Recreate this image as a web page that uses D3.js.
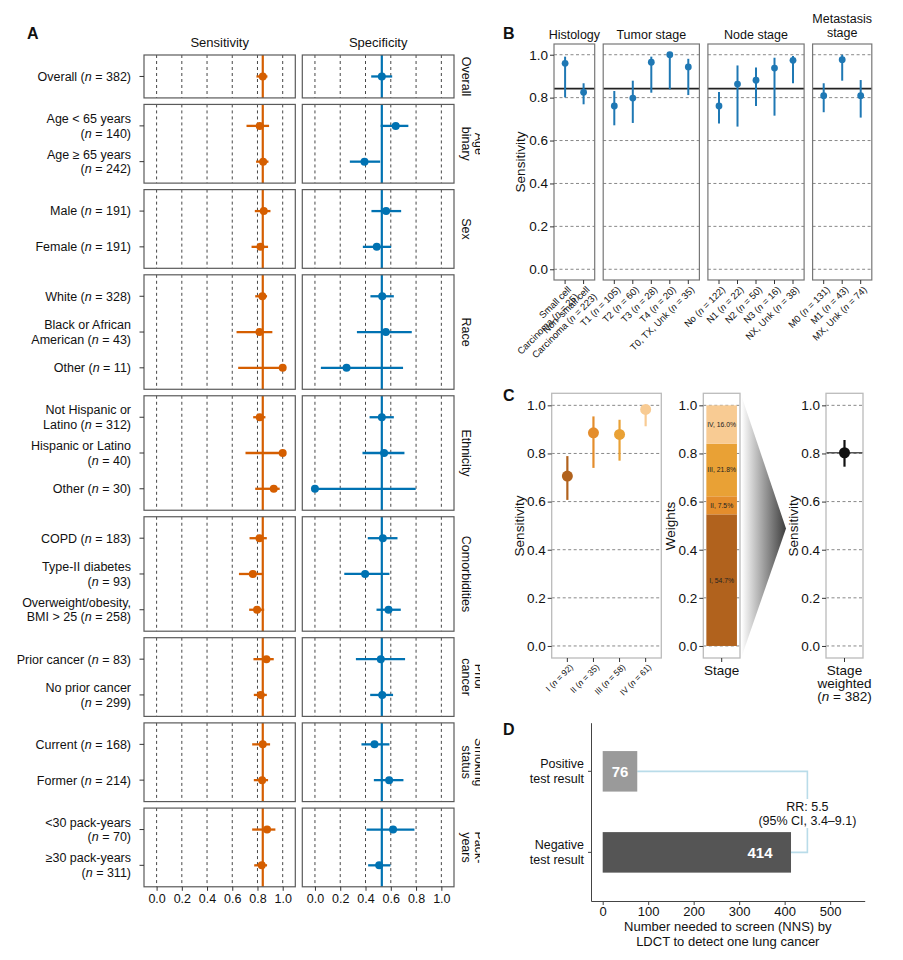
<!DOCTYPE html>
<html><head><meta charset="utf-8">
<script src="https://cdn.jsdelivr.net/npm/d3@7"></script>
<style>
body{margin:0;background:#fff}
svg{font-family:"Liberation Sans",Arial,Helvetica,sans-serif}
</style>
</head><body>
<svg id="c" width="903" height="960"></svg>
<script>
// ---------------- DATA ----------------
// Panel A
const groupsA = ["Overall","Age\nbinary","Sex","Race","Ethnicity","Comorbidities","Prior\ncancer","Smoking\nstatus","Pack-\nyears"];
const subgroupLabels = ["Overall (n = 382)","Age < 65 years\n(n = 140)","Age ≥ 65 years\n(n = 242)","Male (n = 191)","Female (n = 191)",
 "White (n = 328)","Black or African\nAmerican (n = 43)","Other (n = 11)","Not Hispanic or\nLatino (n = 312)","Hispanic or Latino\n(n = 40)","Other (n = 30)",
 "COPD (n = 183)","Type-II diabetes\n(n = 93)","Overweight/obesity,\nBMI > 25 (n = 258)","Prior cancer (n = 83)","No prior cancer\n(n = 299)",
 "Current (n = 168)","Former (n = 214)","<30 pack-years\n(n = 70)","≥30 pack-years\n(n = 311)"];
const subgroupGroup = [0,1,1,2,2,3,3,3,4,4,4,5,5,5,6,6,7,7,8,8];
const sensEst = [0.842,0.818,0.845,0.850,0.824,0.839,0.816,1.000,0.818,1.000,0.929,0.816,0.763,0.797,0.871,0.826,0.842,0.837,0.876,0.834];
const sensLo  = [0.792,0.713,0.789,0.779,0.753,0.782,0.634,0.647,0.766,0.705,0.782,0.737,0.653,0.734,0.768,0.771,0.758,0.771,0.758,0.774];
const sensHi  = [0.879,0.892,0.887,0.903,0.884,0.876,0.918,1.000,0.863,1.000,0.976,0.874,0.845,0.853,0.929,0.874,0.900,0.884,0.942,0.876];
const specEst = [0.529,0.639,0.392,0.563,0.489,0.532,0.561,0.250,0.529,0.547,0.000,0.537,0.397,0.582,0.521,0.532,0.471,0.587,0.618,0.508];
const specLo  = [0.445,0.520,0.276,0.447,0.379,0.439,0.332,0.047,0.432,0.376,0.000,0.418,0.232,0.487,0.324,0.437,0.368,0.466,0.408,0.421];
const specHi  = [0.611,0.739,0.516,0.682,0.603,0.624,0.766,0.697,0.624,0.708,0.797,0.653,0.589,0.679,0.713,0.618,0.589,0.700,0.787,0.597];
const ticksA = [0,0.2,0.4,0.6,0.8,1.0];

// Panel B
const facetsB = ["Histology","Tumor stage","Node stage","Metastasis\nstage"];
const catsB = ["Small cell\nCarcinoma (n = 25)","Non–small cell\nCarcinoma (n = 223)","T1 (n = 105)","T2 (n = 60)","T3 (n = 28)","T4 (n = 20)","T0, TX, Unk (n = 35)",
 "No (n = 122)","N1 (n = 22)","N2 (n = 50)","N3 (n = 16)","NX, Unk (n = 38)","M0 (n = 131)","M1 (n = 43)","MX, Unk (n = 74)"];
const catsBFacet = [0,0,1,1,1,1,1,2,2,2,2,2,3,3,3];
const estB = [0.960,0.825,0.761,0.798,0.965,1.000,0.943,0.761,0.863,0.881,0.938,0.974,0.809,0.977,0.809];
const loB  = [0.801,0.769,0.671,0.682,0.823,0.839,0.812,0.679,0.665,0.761,0.716,0.867,0.732,0.879,0.707];
const hiB  = [0.991,0.867,0.831,0.879,0.991,1.000,0.981,0.826,0.950,0.941,0.986,0.994,0.867,1.000,0.882];
const ticksBC = [0,0.2,0.4,0.6,0.8,1.0];

// Panel C
const stagesC = ["I (n = 92)","II (n = 35)","III (n = 58)","IV (n = 61)"];
const stageNames = ["I","II","III","IV"];
const estC = [0.706,0.886,0.879,0.983];
const loC  = [0.607,0.740,0.770,0.913];
const hiC  = [0.789,0.954,0.940,1.000];
const weightsC = [0.547,0.075,0.218,0.160];
const stageColors = ["#B1621D","#E48D2C","#E9A135","#F8CB93"];
const weightedEst = 0.803, weightedLo = 0.745, weightedHi = 0.856;

// Panel D
const catsD = ["Positive\ntest result","Negative\ntest result"];
const nnsD = [76,414];
const barColorsD = ["#9a9a9a","#555555"];
const rrLines = ["RR: 5.5","(95% CI, 3.4–9.1)"];
const ticksD = [0,100,200,300,400,500];

// ---------------- HELPERS ----------------
const svg = d3.select("#c");
const colSens = "#D55E00", colSpec = "#0072B2", colB = "#1F78B4";

function richText(parent, str, o) {
  const size = o.size || 12.5, lh = o.lh || size*1.16, anchor = o.anchor || "start";
  const lines = str.split("\n"), n = lines.length;
  const t = parent.append("text").attr("text-anchor", anchor).attr("font-size", size)
    .attr("fill", o.fill || "#111").attr("font-weight", o.weight || "normal");
  if (o.transform) t.attr("transform", o.transform);
  const x = o.x || 0, y = o.y || 0;
  let start;
  const va = o.valign || "middle";
  if (va === "middle") start = y - (n-1)*lh/2 + 0.35*size;
  else if (va === "top") start = y + 0.78*size;
  else if (va === "lastline") start = y - (n-1)*lh + 0.35*size;
  else start = y;
  lines.forEach((ln, i) => {
    const parts = ln.split(/\b(n)(?= = )/);
    let first = true;
    parts.forEach((p, j) => {
      if (!p) return;
      const ts = t.append("tspan").text(p);
      if (first) { ts.attr("x", x).attr("y", start + i*lh); first = false; }
      if (j % 2 === 1) ts.attr("font-style", "italic");
    });
  });
  return t;
}
function styleAxis(g, size) {
  g.select(".domain").remove();
  g.selectAll(".tick line").attr("stroke", "#333");
  g.selectAll(".tick text").attr("font-size", size).attr("fill", "#111").attr("font-family", null);
  g.attr("font-family", null);
}
function panelLetter(txt, x, y) {
  svg.append("text").attr("x", x).attr("y", y).attr("font-size", 16).attr("font-weight", "bold").attr("fill", "#111").text(txt);
}

// ---------------- PANEL A ----------------
panelLetter("A", 27, 39);
const xSens = d3.scaleLinear().domain([-0.1, 1.1]).range([144, 295.3]);
const xSpec = d3.scaleLinear().domain([-0.1, 1.1]).range([302.3, 454]);
const unitA = 35.77, gapA = 6.5;
let yCur = 55;
const panelsA = groupsA.map((g, gi) => {
  const idx = subgroupGroup.map((v, i) => v === gi ? i : -1).filter(i => i >= 0);
  const h = (idx.length + 0.2) * unitA;
  const p = {gi, idx, top: yCur, bottom: yCur + h,
    scale: d3.scalePoint().domain(idx).range([yCur, yCur + h]).padding(0.6)};
  yCur += h + gapA;
  return p;
});
const gA = svg.append("g");
svg.append("text").attr("x", (144+295.3)/2).attr("y", 47).attr("text-anchor","middle").attr("font-size",13).attr("fill","#111").text("Sensitivity");
svg.append("text").attr("x", (302.3+454)/2).attr("y", 47).attr("text-anchor","middle").attr("font-size",13).attr("fill","#111").text("Specificity");

const defs = svg.append("defs");
defs.append("clipPath").attr("id","stripclip").append("rect").attr("x",455).attr("y",0).attr("width",25).attr("height",960);
const stripG = svg.append("g").attr("clip-path","url(#stripclip)");

panelsA.forEach(p => {
  [[xSens, sensEst, sensLo, sensHi, colSens], [xSpec, specEst, specLo, specHi, colSpec]].forEach(([x, est, lo, hi, col]) => {
    const [x0, x1] = x.range();
    gA.append("rect").attr("x", x0).attr("y", p.top).attr("width", x1-x0).attr("height", p.bottom-p.top).attr("fill","#fff");
    gA.selectAll(null).data(ticksA).join("line")
      .attr("x1", d => x(d)).attr("x2", d => x(d)).attr("y1", p.top).attr("y2", p.bottom)
      .attr("stroke", "#333").attr("stroke-dasharray", "3,3").attr("stroke-width", 0.9);
    gA.append("line").attr("x1", x(est[0])).attr("x2", x(est[0])).attr("y1", p.top).attr("y2", p.bottom)
      .attr("stroke", col).attr("stroke-width", 2.2);
    gA.selectAll(null).data(p.idx).join("line")
      .attr("x1", i => x(lo[i])).attr("x2", i => x(hi[i])).attr("y1", i => p.scale(i)).attr("y2", i => p.scale(i))
      .attr("stroke", col).attr("stroke-width", 2.3);
    gA.selectAll(null).data(p.idx).join("circle")
      .attr("cx", i => x(est[i])).attr("cy", i => p.scale(i)).attr("r", 4).attr("fill", col);
    gA.append("rect").attr("x", x0).attr("y", p.top).attr("width", x1-x0).attr("height", p.bottom-p.top)
      .attr("fill", "none").attr("stroke", "#5a5a5a").attr("stroke-width", 1.2);
  });
  p.idx.forEach(i => {
    const y = p.scale(i);
    gA.append("line").attr("x1", 139.5).attr("x2", 144).attr("y1", y).attr("y2", y).attr("stroke", "#333").attr("stroke-width", 1);
    richText(gA, subgroupLabels[i], {x: 131, y: y, anchor: "end", size: 12.5, lh: 14.5});
  });
  const mid = (p.top + p.bottom) / 2;
  stripG.append("rect").attr("x",455).attr("y",p.top).attr("width",25).attr("height",p.bottom-p.top).attr("fill","#fff");
  richText(stripG, groupsA[p.gi], {x: 0, y: 0, anchor: "middle", size: 12.5, lh: 13, valign: "lastline",
    transform: `translate(466,${mid}) rotate(90)`});
});
const bottomA = panelsA[panelsA.length-1].bottom;
[xSens, xSpec].forEach(x => {
  const ax = svg.append("g").attr("transform", `translate(0,${bottomA})`)
    .call(d3.axisBottom(x).tickValues(ticksA).tickFormat(d3.format(".1f")).tickSize(4).tickPadding(3));
  styleAxis(ax, 12.5);
});

// ---------------- PANEL B ----------------
panelLetter("B", 503, 39);
const yB = d3.scaleLinear().domain([-0.05, 1.05]).range([280, 44]);
const unitB = 18.5, gapB = 8.5;
let xCur = 554;
const gB = svg.append("g");
facetsB.forEach((f, fi) => {
  const idx = catsBFacet.map((v, i) => v === fi ? i : -1).filter(i => i >= 0);
  const w = (idx.length + 0.2) * unitB;
  const x = d3.scalePoint().domain(idx).range([xCur, xCur + w]).padding(0.6);
  const x0 = xCur, x1 = xCur + w;
  gB.selectAll(null).data(ticksBC).join("line")
    .attr("x1", x0).attr("x2", x1).attr("y1", d => yB(d)).attr("y2", d => yB(d))
    .attr("stroke", "#888").attr("stroke-dasharray", "3,2.5").attr("stroke-width", 1);
  gB.append("line").attr("x1", x0).attr("x2", x1).attr("y1", yB(sensEst[0])).attr("y2", yB(sensEst[0]))
    .attr("stroke", "#222").attr("stroke-width", 1.6);
  gB.selectAll(null).data(idx).join("line")
    .attr("x1", i => x(i)).attr("x2", i => x(i)).attr("y1", i => yB(loB[i])).attr("y2", i => yB(hiB[i]))
    .attr("stroke", colB).attr("stroke-width", 2);
  gB.selectAll(null).data(idx).join("circle")
    .attr("cx", i => x(i)).attr("cy", i => yB(estB[i])).attr("r", 3.4).attr("fill", colB);
  gB.append("rect").attr("x", x0).attr("y", 44).attr("width", w).attr("height", 236)
    .attr("fill", "none").attr("stroke", "#777").attr("stroke-width", 1.2);
  const nl = f.split("\n").length;
  richText(gB, f, {x: (x0+x1)/2, y: nl > 1 ? 26 : 35, anchor: "middle", size: 12.5, lh: 14});
  idx.forEach(i => {
    gB.append("line").attr("x1", x(i)).attr("x2", x(i)).attr("y1", 280).attr("y2", 284).attr("stroke", "#333");
    richText(gB, catsB[i], {x: 0, y: 0, anchor: "end", size: 9.5, lh: 10, valign: "top",
      transform: `translate(${x(i)+1.5},${285}) rotate(-45)`});
  });
  xCur += w + gapB;
});
{
  const ax = svg.append("g").attr("transform", "translate(554,0)")
    .call(d3.axisLeft(yB).tickValues(ticksBC).tickFormat(d3.format(".1f")).tickSize(4).tickPadding(2));
  styleAxis(ax, 13.5);
  svg.append("text").attr("transform", "translate(525,162) rotate(-90)").attr("text-anchor","middle")
    .attr("font-size", 13.5).attr("fill", "#111").text("Sensitivity");
}

// ---------------- PANEL C ----------------
panelLetter("C", 503, 401);
const yC = d3.scaleLinear().domain([-0.05, 1.05]).range([658, 393.3]);
const gC = svg.append("g");
function cFrame(x0, x1) {
  gC.append("rect").attr("x", x0).attr("y", 393.3).attr("width", x1-x0).attr("height", 658-393.3).attr("fill","#fff");
  gC.selectAll(null).data(ticksBC).join("line")
    .attr("x1", x0).attr("x2", x1).attr("y1", d => yC(d)).attr("y2", d => yC(d))
    .attr("stroke", "#888").attr("stroke-dasharray", "3,2.5").attr("stroke-width", 1);
}
function cBorder(x0, x1) {
  gC.append("rect").attr("x", x0).attr("y", 393.3).attr("width", x1-x0).attr("height", 658-393.3)
    .attr("fill", "none").attr("stroke", "#bbb").attr("stroke-width", 1.3);
}
function cAxis(x0, labelX, label) {
  const ax = svg.append("g").attr("transform", `translate(${x0},0)`)
    .call(d3.axisLeft(yC).tickValues(ticksBC).tickFormat(d3.format(".1f")).tickSize(4).tickPadding(2));
  styleAxis(ax, 13.5);
  svg.append("text").attr("transform", `translate(${labelX},526) rotate(-90)`).attr("text-anchor","middle")
    .attr("font-size", 13.5).attr("fill", "#111").text(label);
}
const xC = d3.scalePoint().domain(stagesC).range([551.7, 661.3]).padding(0.6);
cFrame(551.7, 661.3);
gC.selectAll(null).data(stagesC).join("line")
  .attr("x1", d => xC(d)).attr("x2", d => xC(d)).attr("y1", (d,i) => yC(loC[i])).attr("y2", (d,i) => yC(hiC[i]))
  .attr("stroke", (d,i) => stageColors[i]).attr("stroke-width", 2.2);
gC.selectAll(null).data(stagesC).join("circle")
  .attr("cx", d => xC(d)).attr("cy", (d,i) => yC(estC[i])).attr("r", 5.5).attr("fill", (d,i) => stageColors[i]);
cBorder(551.7, 661.3);
cAxis(551.7, 524, "Sensitivity");
stagesC.forEach(s => {
  gC.append("line").attr("x1", xC(s)).attr("x2", xC(s)).attr("y1", 658).attr("y2", 662).attr("stroke", "#333");
  richText(gC, s, {x: 0, y: 0, anchor: "end", size: 8.5, valign: "top", transform: `translate(${xC(s)+1.5},663) rotate(-45)`});
});
const xW = d3.scaleBand().domain(["Stage"]).range([703.3, 740]).paddingOuter(0.1);
cFrame(703.3, 740);
const cum = d3.cumsum(weightsC);
const segs = weightsC.map((w, i) => ({w, i, y0: cum[i] - w, y1: cum[i]}));
gC.selectAll(null).data(segs).join("rect")
  .attr("x", xW("Stage")).attr("width", xW.bandwidth())
  .attr("y", d => yC(d.y1)).attr("height", d => yC(d.y0) - yC(d.y1))
  .attr("fill", d => stageColors[d.i]);
gC.selectAll(null).data(segs).join("text")
  .attr("x", xW("Stage") + xW.bandwidth()/2).attr("y", d => yC((d.y0+d.y1)/2) + 2.4)
  .attr("text-anchor", "middle").attr("font-size", 6.8).attr("fill", "#222")
  .text(d => `${stageNames[d.i]}, ${(d.w*100).toFixed(1)}%`);
cBorder(703.3, 740);
cAxis(703.3, 675, "Weights");
gC.append("line").attr("x1", 721.7).attr("x2", 721.7).attr("y1", 658).attr("y2", 662).attr("stroke", "#333");
gC.append("text").attr("x", 721.7).attr("y", 675).attr("text-anchor","middle").attr("font-size",13.5).attr("fill","#111").text("Stage");
const grad = defs.append("linearGradient").attr("id", "wedge").attr("x1", "0%").attr("x2", "100%").attr("y1","0%").attr("y2","0%");
grad.append("stop").attr("offset", "0%").attr("stop-color", "#ffffff");
grad.append("stop").attr("offset", "100%").attr("stop-color", "#3d3d3d");
gC.append("path").attr("d", `M741.5,396 L741.5,657 L786,528.5 Z`).attr("fill", "url(#wedge)");
const xR = d3.scalePoint().domain(["Stage weighted"]).range([826, 863]).padding(0.6);
cFrame(826, 863);
gC.append("line").attr("x1", 826).attr("x2", 863).attr("y1", yC(weightedEst)).attr("y2", yC(weightedEst))
  .attr("stroke", "#555").attr("stroke-width", 1.6);
gC.append("line").attr("x1", xR("Stage weighted")).attr("x2", xR("Stage weighted"))
  .attr("y1", yC(weightedLo)).attr("y2", yC(weightedHi)).attr("stroke", "#111").attr("stroke-width", 2.2);
gC.append("circle").attr("cx", xR("Stage weighted")).attr("cy", yC(weightedEst)).attr("r", 5.5).attr("fill", "#111");
cBorder(826, 863);
cAxis(826, 798, "Sensitivity");
gC.append("line").attr("x1", xR("Stage weighted")).attr("x2", xR("Stage weighted")).attr("y1", 658).attr("y2", 662).attr("stroke", "#333");
richText(gC, "Stage\nweighted\n(n = 382)", {x: xR("Stage weighted"), y: 675, anchor: "middle", size: 13.5, lh: 13.2, valign: "base"});

// ---------------- PANEL D ----------------
panelLetter("D", 503, 735);
const xD = d3.scaleLinear().domain([-25.7, 576]).range([591, 864.7]);
const yD = d3.scaleBand().domain(catsD).range([722.7, 901]).paddingInner(0.5).paddingOuter(0.35);
const gD = svg.append("g");
const bx = xD(450);
const yPos = yD(catsD[0]) + yD.bandwidth()/2, yNeg = yD(catsD[1]) + yD.bandwidth()/2;
gD.append("path").attr("d", `M${xD(nnsD[0])},${yPos} H${bx} V${yNeg} H${xD(nnsD[1])}`)
  .attr("fill", "none").attr("stroke", "#b9dce9").attr("stroke-width", 1.6);
gD.append("rect").attr("x", bx - 46).attr("y", 799).attr("width", 94).attr("height", 29).attr("fill", "#fff");
rrLines.forEach((l, i) => {
  gD.append("text").attr("x", bx).attr("y", 811 + i*13.5).attr("text-anchor", "middle").attr("font-size", 12.5).attr("fill", "#111").text(l);
});
gD.selectAll(null).data(nnsD).join("rect")
  .attr("x", xD(0)).attr("width", d => xD(d) - xD(0))
  .attr("y", (d,i) => yD(catsD[i])).attr("height", yD.bandwidth())
  .attr("fill", (d,i) => barColorsD[i]);
gD.selectAll(null).data(nnsD).join("text")
  .attr("x", d => d < 200 ? xD(d/2) : xD(d) - 31)
  .attr("y", (d,i) => yD(catsD[i]) + yD.bandwidth()/2 + 5.3)
  .attr("text-anchor", "middle").attr("font-size", 15).attr("font-weight", "bold").attr("fill", "#fff")
  .text(d => d);
{
  const ax = gD.append("g").attr("transform", "translate(0,901)")
    .call(d3.axisBottom(xD).tickValues(ticksD).tickSize(4).tickSizeOuter(0).tickPadding(2));
  ax.select(".domain").attr("stroke", "#444");
  ax.selectAll(".tick line").attr("stroke", "#444");
  ax.selectAll(".tick text").attr("font-size", 13).attr("fill", "#111");
  ax.attr("font-family", null);
  const ay = gD.append("g").attr("transform", "translate(591,0)")
    .call(d3.axisLeft(yD).tickSize(3).tickSizeOuter(0).tickFormat(""));
  ay.select(".domain").attr("stroke", "#444");
  ay.selectAll(".tick line").attr("stroke", "#444");
  catsD.forEach(c => richText(gD, c, {x: 584, y: yD(c) + yD.bandwidth()/2, anchor: "end", size: 12.5, lh: 15}));
  gD.append("text").attr("x", 727.8).attr("y", 931).attr("text-anchor","middle").attr("font-size",13).attr("fill","#111").text("Number needed to screen (NNS) by");
  gD.append("text").attr("x", 727.8).attr("y", 946).attr("text-anchor","middle").attr("font-size",13).attr("fill","#111").text("LDCT to detect one lung cancer");
}
</script>
</body></html>
